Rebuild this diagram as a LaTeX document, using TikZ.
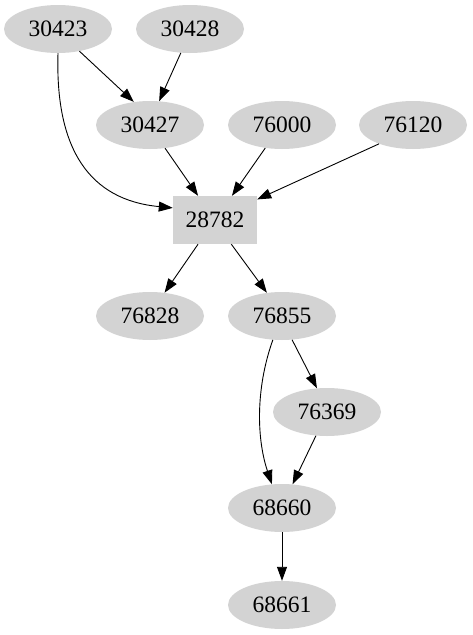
\documentclass[tikz,border=0pt]{standalone}
\usepackage{fontspec}
\setmainfont{Liberation Serif}
\usetikzlibrary{arrows.meta,shapes.geometric}
\definecolor{nodegray}{HTML}{D3D3D3}
\tikzset{
  ell/.style={ellipse,fill=nodegray,draw=none,inner sep=0pt,minimum width=108pt,minimum height=48pt,font=\fontsize{23.5}{27}\selectfont},
  boxn/.style={rectangle,fill=nodegray,draw=none,inner sep=0pt,minimum width=84pt,minimum height=48pt,font=\fontsize{23.5}{27}\selectfont},
  edge/.style={draw=black,line width=0.9pt,-{Triangle[length=14pt,width=10pt]}}
}
\begin{document}
\begin{tikzpicture}[x=1pt,y=-1pt]
\useasboundingbox (0,0) rectangle (473,635);
\node[ell] (n30423) at (58,29) {30423};
\node[ell] (n30428) at (190,29) {30428};
\node[ell] (n30427) at (150,125) {30427};
\node[ell] (n76000) at (282,125) {76000};
\node[ell] (n76120) at (413,125) {76120};
\node[boxn] (n28782) at (215,220) {28782};
\node[ell] (n76828) at (150,316) {76828};
\node[ell] (n76855) at (282,316) {76855};
\node[ell] (n76369) at (327,412) {76369};
\node[ell] (n68660) at (282,508) {68660};
\node[ell] (n68661) at (282,605) {68661};

\draw[edge] (n30423.-46) -- (n30427.125);
\draw[edge] (n30428.-111) -- (n30427.69);
\draw[edge] (n30423.-90) .. controls (55,150) and (90,200) .. (n28782.164);
\draw[edge] (n30427.-57) -- (n28782.125);
\draw[edge] (n76000.-126) -- (n28782.55);
\draw[edge] (n76120.-151) -- (n28782.26);
\draw[edge] (n28782.-125) -- (n76828.58);
\draw[edge] (n28782.-56) -- (n76855.123);
\draw[edge] (n76855.-67) -- (n76369.113);
\draw[edge] (n76855.-111) .. controls (255,390) and (257,440) .. (n68660.113);
\draw[edge] (n76369.-115) -- (n68660.66);
\draw[edge] (n68660.-90) -- (n68661.90);
\end{tikzpicture}
\end{document}
